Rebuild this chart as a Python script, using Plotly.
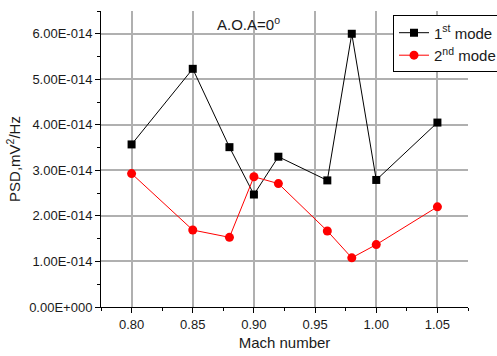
import plotly.graph_objects as go

mach = [0.80, 0.85, 0.88, 0.90, 0.92, 0.96, 0.98, 1.00, 1.05]
psd_mode1 = [3.57e-14, 5.23e-14, 3.51e-14, 2.47e-14, 3.30e-14, 2.78e-14, 6.00e-14, 2.79e-14, 4.05e-14]
psd_mode2 = [2.93e-14, 1.69e-14, 1.53e-14, 2.86e-14, 2.71e-14, 1.67e-14, 1.08e-14, 1.37e-14, 2.20e-14]

x_ticks = [0.80, 0.85, 0.90, 0.95, 1.00, 1.05]
x_labels = ["0.80", "0.85", "0.90", "0.95", "1.00", "1.05"]
y_ticks = [0, 1e-14, 2e-14, 3e-14, 4e-14, 5e-14, 6e-14]
y_labels = ["0.00E+000", "1.00E-014", "2.00E-014", "3.00E-014", "4.00E-014", "5.00E-014", "6.00E-014"]

font_family = "Liberation Sans, Arial, sans-serif"
text_color = "#1a1a1a"

fig = go.Figure()
fig.add_trace(go.Scatter(
    x=mach, y=psd_mode1, mode="lines+markers", name="1<sup>st</sup> mode",
    line=dict(color="black", width=1),
    marker=dict(symbol="square", size=8, color="black"),
))
fig.add_trace(go.Scatter(
    x=mach, y=psd_mode2, mode="lines+markers", name="2<sup>nd</sup> mode",
    line=dict(color="red", width=1),
    marker=dict(symbol="circle", size=9, color="red"),
))

axis_common = dict(
    showline=True, linecolor="black", linewidth=1,
    showgrid=True, gridcolor="#b0b0b0", gridwidth=1.5,
    zeroline=False, ticks="outside", ticklen=5, tickcolor="black",
    tickfont=dict(size=13, color=text_color),
)

fig.update_xaxes(
    range=[0.775, 1.075], tickvals=x_ticks, ticktext=x_labels,
    title=dict(text="Mach number", font=dict(size=15, color=text_color), standoff=6),
    minor=dict(ticks="outside", ticklen=3, tickcolor="black", dtick=0.025, tick0=0.775, showgrid=False),
    **axis_common,
)
fig.update_yaxes(
    range=[0, 6.5e-14], tickvals=y_ticks, ticktext=y_labels,
    title=dict(text="PSD,mV<sup>2</sup>/Hz", font=dict(size=15, color=text_color), standoff=4),
    minor=dict(ticks="outside", ticklen=3, tickcolor="black", dtick=0.5e-14, tick0=0, showgrid=False),
    **axis_common,
)

fig.add_annotation(
    x=(248 - 101) / 367, y=0.958, xref="paper", yref="paper",
    text="A.O.A=0<sup>o</sup>", showarrow=False,
    font=dict(size=15, color=text_color), xanchor="center", yanchor="middle",
)

fig.update_layout(
    width=497, height=356,
    margin=dict(l=101, r=29, t=11, b=49, autoexpand=False),
    paper_bgcolor="white", plot_bgcolor="white",
    font=dict(family=font_family, color=text_color),
    showlegend=True,
    legend=dict(
        x=(393 - 101) / 367, y=0.985, xanchor="left", yanchor="top",
        bordercolor="black", borderwidth=1, bgcolor="white",
        font=dict(size=15, color=text_color),
        tracegroupgap=0, itemwidth=30,
    ),
)

fig.write_html("out.html")
